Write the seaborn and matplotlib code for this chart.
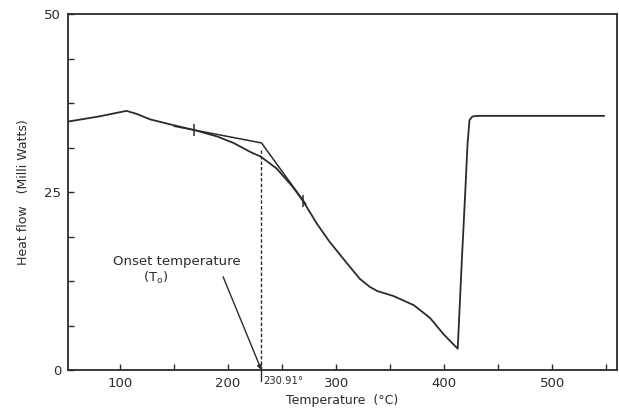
import matplotlib
matplotlib.use("Agg")
import matplotlib.pyplot as plt
import seaborn as sns
import pandas as pd

# DSC curve
temperature = [52, 80, 106, 115, 128, 152, 169, 190, 205, 221, 230, 245, 260,
               270, 282, 294, 310, 322, 331, 338, 353, 372, 387, 399, 406, 412.5,
               416.3, 419.4, 421.6, 423.4, 426, 430, 480, 548]
heat_flow = [34.9, 35.6, 36.4, 36.0, 35.2, 34.3, 33.7, 32.8, 31.9, 30.6, 30.0,
             28.3, 25.7, 23.6, 20.6, 18.0, 15.0, 12.8, 11.7, 11.1, 10.4, 9.1,
             7.3, 5.1, 4.0, 3.0, 15.4, 24.8, 31.8, 35.1, 35.6, 35.7, 35.7, 35.7]

# tangent construction used to find the onset
tangent_t = [150, 230.91, 272]
tangent_hf = [34.25, 31.9, 23.3]
mark_t = [168.5, 269.5]
mark_hf = [33.7, 23.7]
onset_t = 230.91

x_ticks = [100, 200, 300, 400, 500]
y_ticks = [0, 25, 50]

sns.set_style("ticks")
plt.rcParams["font.family"] = ["DejaVu Sans"]

ink = "#2b2b2b"
df = pd.DataFrame({"Temperature": temperature, "Heat flow": heat_flow})

fig = plt.figure(figsize=(6.19, 4.13), dpi=100)
ax = fig.add_axes([0.110, 0.104, 0.887, 0.862])

sns.lineplot(data=df, x="Temperature", y="Heat flow", ax=ax, color=ink,
             linewidth=1.3, sort=False)
ax.plot(tangent_t, tangent_hf, color=ink, linewidth=1.1)
ax.plot(mark_t, mark_hf, linestyle="none", marker="|", markersize=9,
        markeredgewidth=1.1, color=ink)

# onset marker
ax.plot([onset_t, onset_t], [0, 30.9], color=ink, linewidth=1.0,
        linestyle=(0, (2.5, 1.5)))
ax.plot([onset_t, onset_t], [0, -1.5], color=ink, linewidth=1.0, clip_on=False)
ax.text(onset_t + 1.5, -1.6, "230.91°", fontsize=8, ha="left", va="center",
        color=ink, clip_on=False, fontstretch="condensed")

ax.annotate("", xy=(onset_t, 0), xytext=(195.4, 13.1),
            arrowprops=dict(arrowstyle="-|>", color=ink, lw=1.0,
                            mutation_scale=7, shrinkA=0, shrinkB=0))
ax.text(153, 15.2, "Onset temperature", fontsize=9.5, ha="center",
        va="center", color=ink)
ax.text(133, 13.0, "(T$_\\mathrm{o}$)", fontsize=9.5, ha="center",
        va="center", color=ink)

ax.set_xlim(52, 560)
ax.set_ylim(0, 50)
ax.set_xticks(x_ticks)
ax.set_yticks(y_ticks)
ax.set_xticks([x + 50 for x in [50] + x_ticks], minor=True)
ax.set_yticks([i * 6.25 for i in range(9)], minor=True)
ax.tick_params(which="both", direction="in", color=ink, width=1.0)
ax.tick_params(which="major", length=4, labelsize=9.5, labelcolor=ink, pad=5)
ax.tick_params(which="minor", length=4)
for side in ax.spines.values():
    side.set_visible(True)
    side.set_color(ink)
    side.set_linewidth(1.3)

ax.set_xlabel("Temperature  (°C)", fontsize=9, color=ink, labelpad=3)
ax.set_ylabel("Heat flow   (Milli Watts)", fontsize=9, color=ink, labelpad=10)

fig.savefig("out.png", dpi=100)
